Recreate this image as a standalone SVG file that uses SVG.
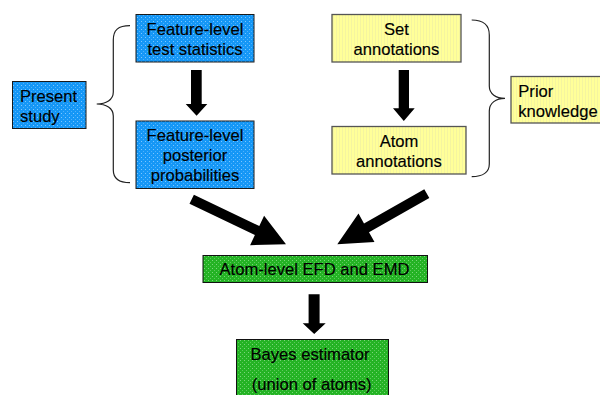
<svg xmlns="http://www.w3.org/2000/svg" width="600" height="395" viewBox="0 0 600 395">
  <defs>
    <!-- textured fills -->
    <pattern id="texBlue" width="4" height="4" patternUnits="userSpaceOnUse">
      <rect width="4" height="4" fill="#1597f6"/>
      <rect x="1" y="1" width="1" height="1" fill="#7cc6ff"/>
      <rect x="3" y="3" width="1" height="1" fill="#4fb0fb"/>
    </pattern>
    <pattern id="texYellow" width="3" height="3" patternUnits="userSpaceOnUse">
      <rect width="3" height="3" fill="#ffff99"/>
      <rect x="0" y="0" width="1" height="3" fill="#f4f4a0"/>
    </pattern>
    <pattern id="texGreen" width="4" height="4" patternUnits="userSpaceOnUse">
      <rect width="4" height="4" fill="#24b324"/>
      <rect x="0" y="0" width="1" height="1" fill="#7ad67a"/>
      <rect x="2" y="2" width="1" height="1" fill="#5cc95c"/>
    </pattern>
  </defs>
  <style>
    text { font-family: "Liberation Sans", Arial, sans-serif; font-size: 16.6px; fill: #000; stroke: #000; stroke-width: 0.15; }
    .mid { text-anchor: middle; }
    .blue { fill: url(#texBlue); stroke: #1a1a1a; stroke-width: 1; }
    .yellow { fill: url(#texYellow); stroke: #555; stroke-width: 1.3; }
    .green { fill: url(#texGreen); stroke: #111; stroke-width: 1; }
    .arrow { fill: #000; }
    .brace { fill: none; stroke: #222; stroke-width: 1.2; }
  </style>

  <rect width="600" height="395" fill="#fff"/>

  <!-- connectors: block arrows and grouping braces -->
  <g id="connectors">
    <polygon class="arrow" points="191,70 201.7,70 201.7,104 207.3,104 196.6,115.7 185.7,104 191,104"/>
    <polygon class="arrow" points="398.7,70 409,70 409,108.3 414.7,108.3 403.8,121 393,108.3 398.7,108.3"/>
    <polygon class="arrow" points="308.6,294.3 319.6,294.3 319.6,323.3 325.7,323.3 314.2,334 302.7,323.3 308.6,323.3"/>
    <polygon class="arrow" points="193.9,194.7 259.3,226 264.1,215.8 286,244.3 250.1,245.2 254.9,235 189.5,203.7"/>
    <polygon class="arrow" points="424.3,189.3 364,223.4 358.5,213.6 337.3,244.3 374.5,242 369,232.2 429.3,198.1"/>
    <path class="brace" d="M130,25.7 C118,25.7 113.3,30 113.3,40 L113.3,92 C113.3,100 106,104 96.7,104 C106,104 113.3,108 113.3,116 L113.3,170 C113.3,178 118,182.7 130,182.7"/>
    <path class="brace" d="M471.7,20 C483,20 489.3,25 489.3,35 L489.3,86 C489.3,94 496,98.3 505,98.3 C496,98.3 489.3,103 489.3,111 L489.3,164 C489.3,172 483,176.7 471.7,176.7"/>
  </g>

  <g id="present-study">
    <rect class="blue" x="12.5" y="81.5" width="73.5" height="47"/>
    <text x="20" y="101.7">Present</text>
    <text x="20" y="121.7">study</text>
  </g>

  <g id="feature-test-statistics">
    <rect class="blue" x="136" y="14.5" width="118" height="47.5"/>
    <text class="mid" x="195" y="35.3">Feature-level</text>
    <text class="mid" x="195" y="54.5">test statistics</text>
  </g>

  <g id="feature-posterior">
    <rect class="blue" x="136" y="121" width="118" height="67.5"/>
    <text class="mid" x="195" y="141">Feature-level</text>
    <text class="mid" x="195" y="160.7">posterior</text>
    <text class="mid" x="195" y="181">probabilities</text>
  </g>

  <g id="set-annotations">
    <rect class="yellow" x="332" y="14.5" width="129" height="47.5"/>
    <text class="mid" x="396.5" y="34.7">Set</text>
    <text class="mid" x="396.5" y="54.7">annotations</text>
  </g>

  <g id="atom-annotations">
    <rect class="yellow" x="332" y="126.5" width="134" height="47.5"/>
    <text class="mid" x="399" y="146.7">Atom</text>
    <text class="mid" x="399" y="166.7">annotations</text>
  </g>

  <g id="prior-knowledge">
    <rect class="yellow" x="511" y="76.5" width="95" height="46.5"/>
    <text x="518.3" y="96.7">Prior</text>
    <text x="518.3" y="116.7">knowledge</text>
  </g>

  <g id="atom-level">
    <rect class="green" x="203" y="255.5" width="224.5" height="27"/>
    <text class="mid" x="314.5" y="275">Atom-level EFD and EMD</text>
  </g>

  <g id="bayes-estimator">
    <rect class="green" x="236.5" y="339.5" width="152" height="62"/>
    <text class="mid" x="310" y="360">Bayes estimator</text>
    <text class="mid" x="311.7" y="390">(union of atoms)</text>
  </g>
</svg>
